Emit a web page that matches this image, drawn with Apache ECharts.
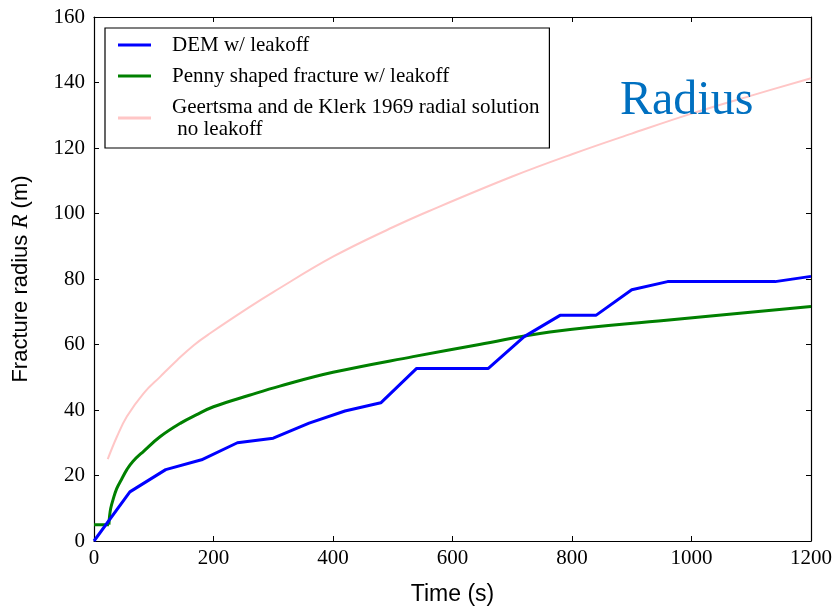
<!DOCTYPE html>
<html>
<head>
<meta charset="utf-8">
<script src="https://cdn.jsdelivr.net/npm/echarts@6/dist/echarts.min.js"></script>
<style>html,body{margin:0;padding:0;background:#fff}#c{width:835px;height:611px}</style>
</head>
<body>
<div id="c"></div>
<script>
var xTicks = [0, 200, 400, 600, 800, 1000, 1200];
var yTicks = [0, 20, 40, 60, 80, 100, 120, 140, 160];

var timeDEM   = [0, 60, 120, 180, 240, 300, 360, 420, 480, 540, 660, 720, 780, 840, 900, 960, 1140, 1200];
var radiusDEM = [0, 15, 21.8, 24.8, 30, 31.4, 36, 39.7, 42.2, 52.7, 52.7, 62.4, 68.9, 68.9, 76.7, 79.2, 79.2, 80.8];

// Penny-shaped: initial flat part, then the growth curve
var timePennyFlat   = [0, 25];
var radiusPennyFlat = [5, 5];
var timePenny   = [25, 26, 28, 32, 38, 46, 55, 65, 83, 111, 145, 171, 200, 260, 311, 400, 534, 645, 763, 958, 1200];
var radiusPenny = [5, 7.5, 10, 12.7, 16, 18.8, 21.8, 24.3, 27.4, 31.9, 36, 38.5, 41, 44.5, 47.3, 51.5, 56.3, 60, 63.8, 67.4, 71.6];

var timeGdK   = [23, 38.5, 55, 83, 111, 139, 167, 195, 260, 300, 400, 500, 560, 700, 800, 900, 1000, 1100, 1200];
var radiusGdK = [25, 31.9, 38, 45.1, 50.2, 55.2, 59.8, 63.5, 71.4, 76, 86.8, 95.8, 100.7, 111.3, 118.1, 124.4, 130.5, 136, 141.3];

var names = ['DEM w/ leakoff', 'Penny shaped fracture w/ leakoff', 'Geertsma and de Klerk 1969 radial solution\n no leakoff'];

function zip(a, b) { return a.map(function (v, i) { return [v, b[i]]; }); }

var serif = 'Liberation Serif';
var sans = 'Liberation Sans';
var chart = echarts.init(document.getElementById('c'), null, {renderer: 'canvas'});

var axisCommon = {
  axisLine: {show: true, onZero: false, lineStyle: {color: '#000', width: 1.2}},
  axisTick: {show: true, inside: true, length: 5, lineStyle: {color: '#000', width: 1}},
  splitLine: {show: false}
};

chart.setOption({
  animation: false,
  backgroundColor: '#fff',
  grid: {left: 94, right: 24, top: 17, bottom: 66, containLabel: false},
  title: {
    text: 'Radius', left: 615, top: 72,
    textStyle: {fontFamily: serif, fontSize: 48, fontWeight: 'normal', color: '#0070C0'}
  },
  legend: {
    orient: 'vertical', left: 105, top: 28,
    padding: [6, 10, 8, 13],
    borderColor: '#000', borderWidth: 1.2,
    backgroundColor: '#fff',
    itemGap: 9, itemWidth: 33, itemHeight: 3,
    icon: 'rect',
    textStyle: {fontFamily: serif, fontSize: 21, lineHeight: 22, color: '#000', padding: [0, 0, 0, 16]},
    data: names
  },
  xAxis: [
    Object.assign({}, axisCommon, {
      type: 'value', min: 0, max: 1200, interval: 200, position: 'bottom',
      name: 'Time (s)', nameLocation: 'middle', nameGap: 42,
      nameTextStyle: {fontFamily: sans, fontSize: 23, color: '#000'},
      axisLabel: {fontFamily: serif, fontSize: 21, color: '#000', margin: 7,
        formatter: function (v) { return xTicks.indexOf(v) >= 0 ? String(v) : ''; }}
    }),
    Object.assign({}, axisCommon, {
      type: 'value', min: 0, max: 1200, interval: 200, position: 'top',
      axisLabel: {show: false}
    })
  ],
  yAxis: [
    Object.assign({}, axisCommon, {
      type: 'value', min: 0, max: 160, interval: 20, position: 'left',
      name: 'Fracture radius {r|R} (m)', nameLocation: 'middle', nameGap: 62, nameRotate: 90,
      nameTextStyle: {fontFamily: sans, fontSize: 22, color: '#000',
        rich: {r: {fontFamily: serif, fontStyle: 'italic', fontSize: 23, color: '#000'}}},
      axisLabel: {fontFamily: serif, fontSize: 21, color: '#000', margin: 9,
        formatter: function (v) { return yTicks.indexOf(v) >= 0 ? String(v) : ''; }}
    }),
    Object.assign({}, axisCommon, {
      type: 'value', min: 0, max: 160, interval: 20, position: 'right',
      axisLabel: {show: false}
    })
  ],
  series: [
    {name: names[0], type: 'line', data: zip(timeDEM, radiusDEM), symbol: 'none',
      lineStyle: {color: '#0000ff', width: 3}, itemStyle: {color: '#0000ff'}, z: 4},
    {name: names[1], type: 'line', data: zip(timePennyFlat, radiusPennyFlat), symbol: 'none',
      lineStyle: {color: '#008000', width: 3}, itemStyle: {color: '#008000'}, z: 3},
    {name: names[1], type: 'line', data: zip(timePenny, radiusPenny), symbol: 'none',
      smooth: 0.4,
      lineStyle: {color: '#008000', width: 3, join: 'round'}, itemStyle: {color: '#008000'}, z: 3},
    {name: names[2], type: 'line', data: zip(timeGdK, radiusGdK), symbol: 'none',
      smooth: 0.4,
      lineStyle: {color: '#ffc6c6', width: 2, join: 'round'}, itemStyle: {color: '#ffc6c6'}, z: 2}
  ]
});
</script>
</body>
</html>
